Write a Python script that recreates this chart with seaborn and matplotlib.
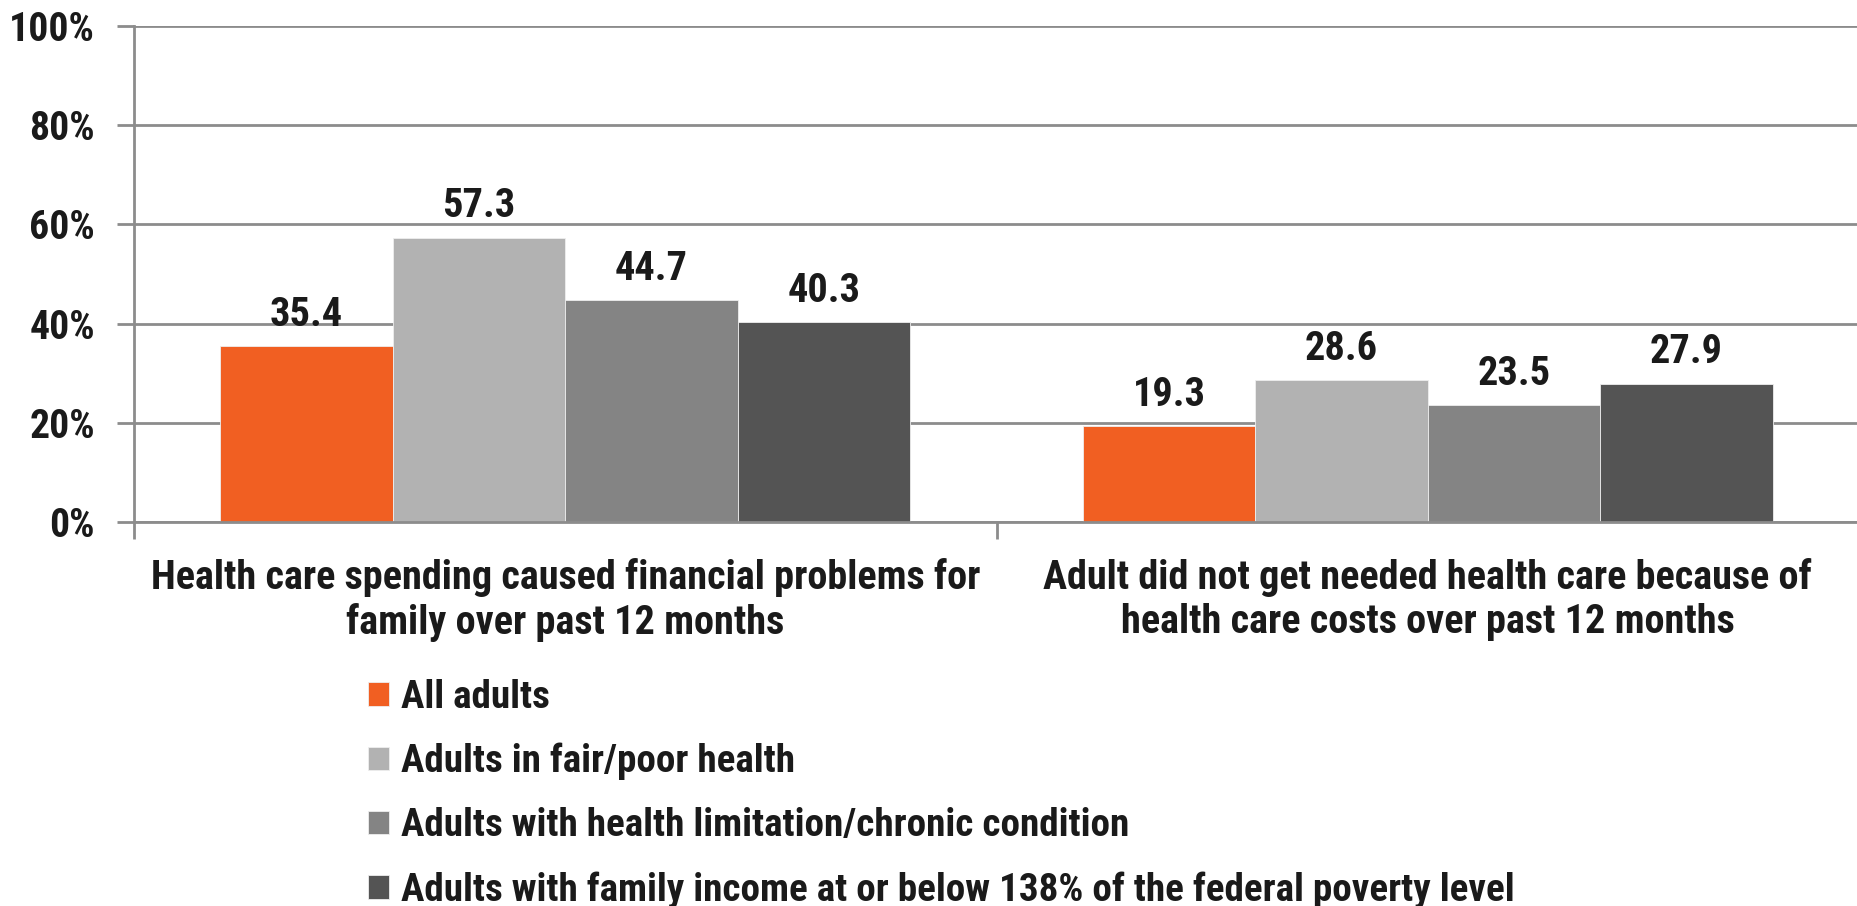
import matplotlib
matplotlib.use("Agg")
import matplotlib.pyplot as plt
from matplotlib import font_manager
import seaborn as sns
import pandas as pd

categories = [
    "Health care spending caused financial problems for\nfamily over past 12 months",
    "Adult did not get needed health care because of\nhealth care costs over past 12 months",
]
groups = [
    "All adults",
    "Adults in fair/poor health",
    "Adults with health limitation/chronic condition",
    "Adults with family income at or below 138% of the federal poverty level",
]
all_adults = [35.4, 19.3]
fair_poor_health = [57.3, 28.6]
chronic_condition = [44.7, 23.5]
low_income = [40.3, 27.9]
y_ticks = [0, 20, 40, 60, 80, 100]
colors = ["#F15F22", "#B2B2B2", "#848484", "#545454"]

rows = []
for g, vals in zip(groups, [all_adults, fair_poor_health, chronic_condition, low_income]):
    for c, v in zip(categories, vals):
        rows.append({"category": c, "group": g, "value": v})
df = pd.DataFrame(rows)

sns.set_style("white")

# Prefer a narrow sans face; otherwise use Liberation Sans at a smaller size
installed = {f.name for f in font_manager.fontManager.ttflist}
family, scale = "Liberation Sans", 0.80
for name, s in [("Liberation Sans Narrow", 1.0), ("Arial Narrow", 1.0),
                ("Roboto Condensed", 0.97)]:
    if name in installed:
        family, scale = name, s
        break
plt.rcParams["font.family"] = [family, "DejaVu Sans"]
plt.rcParams["font.weight"] = "bold"

fs_tick = 29.5 * scale
fs_cat = 29.9 * scale
fs_val = 30 * scale
fs_leg = 29 * scale
text_color = "#1a1a1a"
line_color = "#8C8C8C"

W, H = 1858, 906
fig = plt.figure(figsize=(W / 100, H / 100), dpi=100)
ax = fig.add_axes([134 / W, (H - 522) / H, (1859 - 134) / W, (522 - 26) / H])

sns.barplot(data=df, x="category", y="value", hue="group", order=categories,
            hue_order=groups, palette=colors, width=0.8, gap=0, ax=ax,
            edgecolor="#eeeeee", linewidth=0.6, legend=True, errorbar=None,
            saturation=1)

ax.set_ylim(0, 100)
ax.set_xlim(-0.5, 1.5)
ax.set_yticks(y_ticks)
ax.set_yticklabels([f"{t}%" for t in y_ticks], fontsize=fs_tick, fontweight="bold",
                   color=text_color)
ax.yaxis.grid(True, color=line_color, linewidth=2)
ax.set_axisbelow(True)
ax.set_xlabel("")
ax.set_ylabel("")
for s in ["top", "right"]:
    ax.spines[s].set_visible(False)
for s in ["left", "bottom"]:
    ax.spines[s].set_color(line_color)
    ax.spines[s].set_linewidth(2)
ax.tick_params(axis="y", length=12, width=2, color=line_color, pad=16, left=True)
ax.set_xticks([0, 1])
ax.set_xticklabels(categories, fontsize=fs_cat, fontweight="bold", color=text_color,
                   linespacing=1.18)
ax.tick_params(axis="x", length=0, pad=26)
ax.set_xticks([-0.5, 0.5, 1.5], minor=True)
ax.tick_params(axis="x", which="minor", length=12, width=2, color=line_color, bottom=True)

for cont in ax.containers:
    ax.bar_label(cont, fmt="%.1f", padding=9, fontsize=fs_val, fontweight="bold",
                 color=text_color)

handles, labels = ax.get_legend_handles_labels()
ax.get_legend().remove()
fig.legend(handles, labels, loc="upper left", bbox_to_anchor=(368 / W, 1 - 679 / H),
           frameon=False, handlelength=0.55, handleheight=0.55,
           handletextpad=0.3, labelspacing=0.69, borderaxespad=0, borderpad=0,
           prop={"family": [family, "DejaVu Sans"], "weight": "bold", "size": fs_leg})
for t in fig.legends[0].get_texts():
    t.set_color(text_color)

fig.savefig("out.png", dpi=100)
